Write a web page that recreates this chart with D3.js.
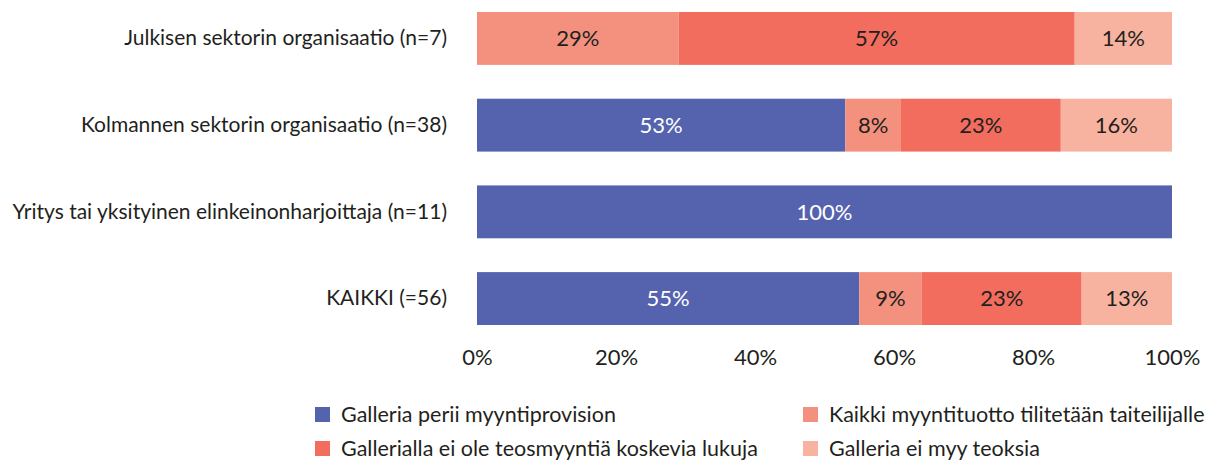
<!DOCTYPE html>
<html>
<head>
<meta charset="utf-8">
<script src="https://cdn.jsdelivr.net/npm/d3@7"></script>
<style>
  body { margin: 0; background: #fff; }
  svg text { font-family: 'Lato', 'Noto Sans', sans-serif; fill: #231f20; }
</style>
</head>
<body>
<div id="chart"></div>
<script>
const categories = [
  'Julkisen sektorin organisaatio (n=7)',
  'Kolmannen sektorin organisaatio (n=38)',
  'Yritys tai yksityinen elinkeinonharjoittaja (n=11)',
  'KAIKKI (=56)'
];
const seriesNames = [
  'Galleria perii myyntiprovision',
  'Kaikki myyntituotto tilitetään taiteilijalle',
  'Gallerialla ei ole teosmyyntiä koskevia lukuja',
  'Galleria ei myy teoksia'
];
const provision = [0, 53, 100, 55];
const allToArtist = [29, 8, 0, 9];
const noFigures = [57, 23, 0, 23];
const noSales = [14, 16, 0, 13];
const tickValues = [0, 20, 40, 60, 80, 100];

const colors = ['#5563ae', '#f4917e', '#f26d5e', '#f8b3a0'];
const labelColors = ['#ffffff', '#231f20', '#231f20', '#231f20'];

const width = 1213, height = 460;
const margin = { top: 12, right: 41, left: 477 };
const plotBottom = 325;

const rows = categories.map((c, i) => ({
  cat: c,
  vals: [provision[i], allToArtist[i], noFigures[i], noSales[i]]
}));

const x = d3.scaleLinear().domain([0, 100]).range([margin.left, width - margin.right]);
const y = d3.scaleBand()
  .domain(categories)
  .range([margin.top, plotBottom])
  .paddingInner(0.39)
  .paddingOuter(0);

const svg = d3.select('#chart').append('svg')
  .attr('width', width)
  .attr('height', height);

// stacked segments
const segs = [];
rows.forEach(r => {
  let acc = 0;
  r.vals.forEach((v, k) => {
    segs.push({ cat: r.cat, k, x0: acc, x1: acc + v, v });
    acc += v;
  });
});

const g = svg.append('g');
g.selectAll('rect').data(segs.filter(d => d.v > 0)).enter()
  .append('rect')
  .attr('x', d => x(d.x0))
  .attr('y', d => y(d.cat))
  .attr('width', d => x(d.x1) - x(d.x0))
  .attr('height', y.bandwidth())
  .attr('fill', d => colors[d.k]);

g.selectAll('text').data(segs.filter(d => d.v > 0)).enter()
  .append('text')
  .attr('x', d => (x(d.x0) + x(d.x1)) / 2)
  .attr('y', d => y(d.cat) + y.bandwidth() / 2)
  .attr('dy', '0.36em')
  .attr('text-anchor', 'middle')
  .style('font-size', '22px')
  .style('fill', d => labelColors[d.k])
  .text(d => d.v + '%');

// category labels
const yAxis = svg.append('g')
  .attr('transform', `translate(${margin.left},0)`)
  .call(d3.axisLeft(y).tickSize(0).tickPadding(30));
yAxis.select('.domain').remove();
yAxis.selectAll('text').style('font-size', '21px').style('font-family', null);

// x axis
const xAxis = svg.append('g')
  .attr('transform', `translate(0,${plotBottom})`)
  .call(d3.axisBottom(x).tickValues(tickValues).tickSize(0).tickPadding(24).tickFormat(d => d + '%'));
xAxis.select('.domain').remove();
xAxis.selectAll('text').style('font-size', '22px').style('font-family', null);

// legend
const legendPos = [[315, 414], [803, 414], [315, 448], [803, 448]];
const legend = svg.append('g').selectAll('g').data(seriesNames).enter()
  .append('g')
  .attr('transform', (d, i) => `translate(${legendPos[i][0]},${legendPos[i][1]})`);
legend.append('rect')
  .attr('x', 0).attr('y', -7)
  .attr('width', 15).attr('height', 15)
  .attr('fill', (d, i) => colors[i]);
legend.append('text')
  .attr('x', 26)
  .attr('y', 0)
  .attr('dy', '0.35em')
  .style('font-size', '21.5px')
  .text(d => d);
</script>
</body>
</html>
